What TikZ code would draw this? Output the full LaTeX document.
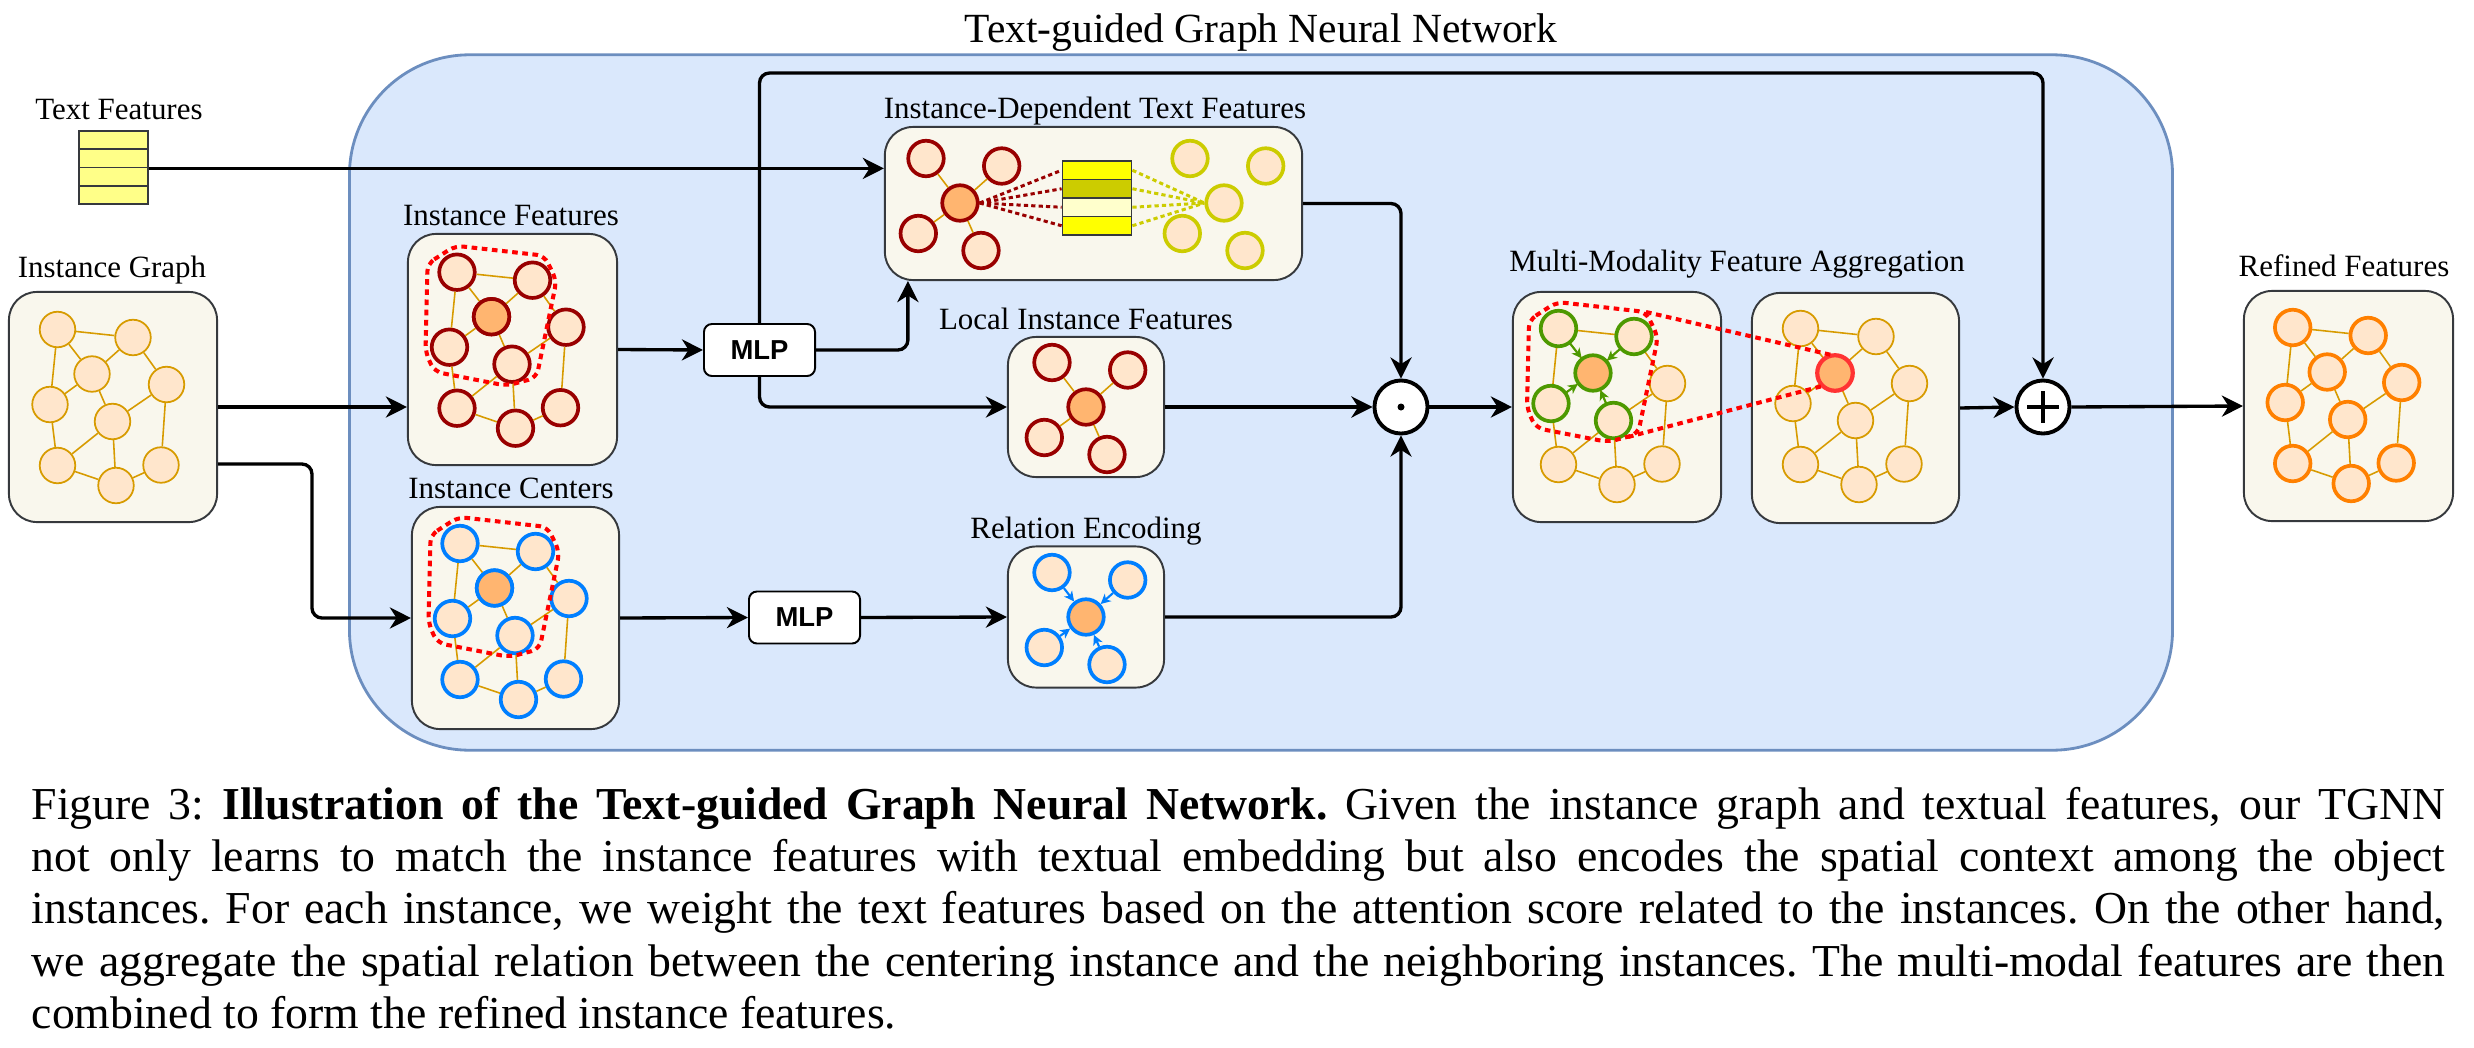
\documentclass[tikz,border=0pt]{standalone}
\usepackage{fontspec}
\setmainfont{Liberation Serif}
\newfontfamily\mlpfont{Liberation Sans}
\usetikzlibrary{arrows.meta, calc}

\definecolor{panelfill}{HTML}{F9F7ED}
\definecolor{panelline}{HTML}{36393D}
\definecolor{tgnnfill}{HTML}{DAE8FC}
\definecolor{tgnnline}{HTML}{6C8EBF}
\definecolor{nodefill}{HTML}{FFE6CC}
\definecolor{hubfill}{HTML}{FFB570}
\definecolor{edgeorange}{HTML}{D79B00}
\definecolor{featred}{HTML}{990000}
\definecolor{ctrblue}{HTML}{007FFF}
\definecolor{aggrgreen}{HTML}{4D9900}
\definecolor{reforange}{HTML}{FF8000}
\definecolor{hitred}{HTML}{FF3333}
\definecolor{textolive}{HTML}{CCCC00}
\definecolor{txtyellow}{HTML}{FFFF00}
\definecolor{txtpale}{HTML}{FFFFCC}
\definecolor{tfyellow}{HTML}{FFFF88}

\tikzset{
  tgnnbox/.style={draw=tgnnline, fill=tgnnfill, line width=0.8pt, rounded corners=1.2cm, inner sep=0},
  panel/.style={draw=panelline, fill=panelfill, line width=0.55pt, rounded corners=0.28cm, inner sep=0},
  mlpbox/.style={draw=black, fill=white, line width=0.55pt, rounded corners=0.08cm, inner sep=0,
    minimum width=1.11cm, minimum height=0.52cm, font=\mlpfont\bfseries\fontsize{7.8}{9}\selectfont},
  lbl/.style={font=\fontsize{8.8}{10}\selectfont, anchor=base, inner sep=0},
  title/.style={font=\fontsize{11.8}{13}\selectfont, anchor=base, inner sep=0},
  gnode/.style={circle, draw=edgeorange, fill=nodefill, line width=0.5pt, minimum size=0.355cm, inner sep=0},
  redring/.style={draw=featred, line width=1.05pt},
  bluering/.style={draw=ctrblue, line width=1.05pt},
  greenring/.style={draw=aggrgreen, line width=1.05pt},
  olivering/.style={draw=textolive, line width=1.05pt},
  orangering/.style={draw=reforange, line width=1.05pt},
  hitring/.style={draw=hitred, line width=1.2pt},
  hub/.style={fill=hubfill},
  gedge/.style={draw=edgeorange, line width=0.45pt},
  flow/.style={draw=black, line width=0.95pt, rounded corners=0.1cm,
    -{Stealth[length=6pt, width=6pt, inset=1.9pt]}},
  pull/.style={line width=0.6pt, -{Stealth[length=2.8pt, width=2.8pt, inset=0.8pt]}},
  selpoly/.style={draw=red, line width=1.15pt, dash pattern=on 1.6pt off 1.3pt, rounded corners=0.08cm},
  attn/.style={line width=0.85pt, dash pattern=on 1.2pt off 0.9pt},
  cell/.style={rectangle, draw=panelline, line width=0.5pt, minimum width=0.69cm, minimum height=0.185cm, inner sep=0},
  opnode/.style={circle, draw=black, fill=white, line width=1.1pt, minimum size=0.53cm, inner sep=0},
}

% nine-node instance graph: prefix, centre, ring style
\newcommand{\instgraph}[3]{%
  \foreach \i/\dx/\dy in {1/-55.5/-77.5, 2/20/-69.5, 3/-21/-33, 4/53.5/-22.5, 5/-63/-2.5,
                          6/-0.5/14.5, 7/-55.5/58.5, 8/3/78.5, 9/48/58}
    \node[gnode, #3] (#1-\i) at ($(#2)+(\dx,\dy)$) {};
  \foreach \a/\b in {1/2, 1/3, 1/5, 2/3, 2/4, 3/5, 3/6, 4/6, 4/9, 5/7, 6/7, 6/8, 7/8, 8/9}
    \draw[gedge] (#1-\a) -- (#1-\b);
}
% hub with four neighbours: prefix, centre, ring style, hub style
\newcommand{\stargraph}[4]{%
  \node[gnode, #3, #4] (#1-0) at (#2) {};
  \foreach \i/\dx/\dy in {1/-34/-44.5, 2/41.7/-37, 3/-41.7/30.5, 4/21/47.5}
    \node[gnode, #3] (#1-\i) at ($(#2)+(\dx,\dy)$) {};
}
% dotted neighbourhood outline round node 3
\newcommand{\selregion}[1]{%
  \draw[selpoly] ($(#1)+(-85,-86)$) -- ($(#1)+(-57,-104)$) -- ($(#1)+(32,-94)$) -- ($(#1)+(44,-69)$)
    -- ($(#1)+(24,28)$) -- ($(#1)+(-6,36)$) -- ($(#1)+(-78,22)$) -- ($(#1)+(-87,3)$) -- cycle;
}

\begin{document}
\begin{tikzpicture}[x=0.01cm, y=-0.01cm]
\useasboundingbox (0,0) rectangle (2474,1048);

% TGNN frame
\node[tgnnbox, minimum width=18.22cm, minimum height=6.95cm] (tgnn) at (1261,402.5) {};
\node[title] at (1261,42) {Text-guided Graph Neural Network};

% panels
\node[panel, minimum width=2.08cm, minimum height=2.30cm] (ig) at (113,407) {};
\node[panel, minimum width=2.09cm, minimum height=2.31cm] (feat) at (512.5,349.5) {};
\node[panel, minimum width=2.07cm, minimum height=2.22cm] (cent) at (515.5,618) {};
\node[panel, minimum width=4.17cm, minimum height=1.53cm] (idtf) at (1093.5,203.5) {};
\node[panel, minimum width=1.56cm, minimum height=1.40cm] (lif) at (1086,407) {};
\node[panel, minimum width=1.56cm, minimum height=1.41cm] (rel) at (1086,617) {};
\node[panel, minimum width=2.08cm, minimum height=2.30cm] (aggA) at (1617,407) {};
\node[panel, minimum width=2.07cm, minimum height=2.30cm] (aggB) at (1855.5,408) {};
\node[panel, minimum width=2.09cm, minimum height=2.30cm] (refined) at (2348.5,406) {};

\node[mlpbox] (mlpA) at (759.5,350) {MLP};
\node[mlpbox] (mlpB) at (804.5,617.5) {MLP};
\node[opnode] (odot) at (1401,407) {};
\fill (odot) circle[radius=0.035cm];
\node[opnode] (plus) at (2043,407) {};
\draw[line width=1.3pt] ($(plus)+(-16,0)$) -- ($(plus)+(16,0)$) ($(plus)+(0,-16)$) -- ($(plus)+(0,16)$);

% text feature stack
\foreach \i in {1,...,4}
  \node[cell, fill=tfyellow, minimum height=0.1825cm] (tf\i) at (113.5,{121.9+18.25*\i}) {};

% labels
\node[lbl] at (119,119) {Text Features};
\node[lbl] at (112,277) {Instance Graph};
\node[lbl] at (511,225) {Instance Features};
\node[lbl] at (511,498) {Instance Centers};
\node[lbl] at (1095,118) {Instance-Dependent Text Features};
\node[lbl] at (1086,329) {Local Instance Features};
\node[lbl] at (1086,538) {Relation Encoding};
\node[lbl] at (1737,271) {Multi-Modality Feature Aggregation};
\node[lbl] at (2344,276) {Refined Features};

% graphs
\instgraph{gi}{ig}{}
\instgraph{gf}{512.5,349.7}{redring}
\node[gnode, redring, hub] at (gf-3) {};
\selregion{512.5,349.7}
\instgraph{gc}{515.5,621}{bluering}
\node[gnode, bluering, hub] at (gc-3) {};
\selregion{515.5,621}
\instgraph{gr}{2348.2,405}{orangering}

% aggregation
\instgraph{ga}{1614,406}{}
\foreach \i in {1,2,5,6} {
  \node[gnode, greenring] at (ga-\i) {};
  \draw[pull, aggrgreen] (ga-\i) -- (ga-3);
}
\node[gnode, greenring, hub] at (ga-3) {};
\instgraph{gb}{1856,406}{}
\node[gnode, hitring, hub] at (gb-3) {};
\selregion{1614,406}
\coordinate (selA-ne) at ($(1614,406)+(32,-94)$);
\coordinate (selA-s) at ($(1614,406)+(14,31)$);
\draw[selpoly] (selA-ne) -- (gb-3.103);
\draw[selpoly] (selA-s) -- (gb-3.225);

% local features and relation encoding
\stargraph{gl}{lif}{redring}{hub}
\foreach \i in {1,...,4} \draw[gedge] (gl-0) -- (gl-\i);
\stargraph{ge}{rel}{bluering}{hub}
\foreach \i in {1,...,4} \draw[pull, ctrblue] (ge-\i) -- (ge-0);

% instance-dependent text features
\foreach \c [count=\i] in {txtyellow, textolive, txtpale, txtyellow}
  \node[cell, fill=\c] (att\i) at (1097,{151.75+18.5*\i}) {};
\stargraph{tl}{960,203}{redring}{hub}
\foreach \i in {1,...,4} \draw[gedge] (tl-0) -- (tl-\i);
\stargraph{tr}{1224,203}{olivering}{}
\foreach \i in {1,...,4} {
  \draw[attn, featred] (tl-0.east) -- (att\i.west);
  \draw[attn, textolive] (att\i.east) -- (tr-0.west);
}

% connectors
\coordinate (topbus) at (1000,73);
\draw[flow] (tf2.south east) -- (tf2.south east -| idtf.west);
\draw[flow] (ig.east) -- (ig.east -| feat.west);
\draw[flow] ($(ig.east)+(0,57)$) -| ($(cent.west)+(-99,0)$) -- (cent.west);
\draw[flow] (feat.east) -- (mlpA.west);
\draw[flow] (cent.east) -- (mlpB.west);
\draw[flow] (mlpB.east) -- (rel.west);
\draw[flow] (mlpA.east) -| ($(idtf.south west)+(24,0)$);
\draw[flow] (mlpA.south) |- (lif.west);
\draw[flow] (mlpA.north) |- (topbus) -| (plus.north);
\draw[flow] (idtf.east) -| (odot.north);
\draw[flow, line width=1.2pt] (lif.east) -- (odot.west);
\draw[flow] (rel.east) -| (odot.south);
\draw[flow] (odot.east) -- (aggA.west);
\draw[flow] (aggB.east) -- (plus.west);
\draw[flow] (plus.east) -- (refined.west);

% caption
\node[anchor=north west, inner sep=0, text width=24.12cm, align=justify,
      font=\fontsize{13}{14.8}\selectfont\frenchspacing] (caption) at (31,787)
  {Figure 3: \textbf{Illustration of the Text-guided Graph Neural Network.} Given the instance graph and textual features, our TGNN\linebreak
   not only learns to match the instance features with textual embedding but also encodes the spatial context among the object\linebreak
   instances. For each instance, we weight the text features based on the attention score related to the instances. On the other hand,\linebreak
   we aggregate the spatial relation between the centering instance and the neighboring instances. The multi-modal features are then\linebreak
   combined to form the refined instance features.};
\end{tikzpicture}
\end{document}
